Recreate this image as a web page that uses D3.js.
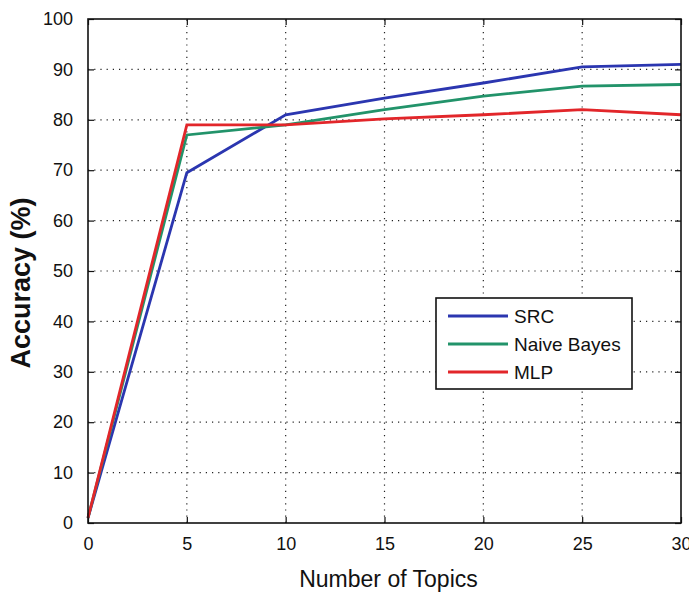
<!DOCTYPE html>
<html>
<head>
<meta charset="utf-8">
<script src="https://cdn.jsdelivr.net/npm/d3@7"></script>
<style>
  body { margin: 0; background: #fff; }
  svg { display: block; font-family: "Liberation Sans", Arial, sans-serif; }
</style>
</head>
<body>
<div id="chart"></div>
<script>
// Data
const topics = [0, 5, 10, 15, 20, 25, 30];
const srcAcc = [1, 69.5, 81, 84.3, 87.3, 90.5, 91];
const nbAcc = [1, 77, 79, 82, 84.7, 86.7, 87];
const mlpAcc = [1, 79, 79, 80.2, 81, 82, 81];
const xTicks = [0, 5, 10, 15, 20, 25, 30];
const yTicks = [0, 10, 20, 30, 40, 50, 60, 70, 80, 90, 100];

const seriesList = [
    { name: 'SRC', values: srcAcc, color: '#2b36b0' },
    { name: 'Naive Bayes', values: nbAcc, color: '#22936a' },
    { name: 'MLP', values: mlpAcc, color: '#e2262a' }
];

const W = 689, H = 593;
const margin = { top: 19, right: 8, bottom: 70, left: 88 };

const svg = d3.select('#chart').append('svg')
    .attr('width', W)
    .attr('height', H);

const x = d3.scaleLinear().domain([0, 30]).range([margin.left, W - margin.right]);
const y = d3.scaleLinear().domain([0, 100]).range([H - margin.bottom, margin.top]);

// dotted grid
svg.append('g').selectAll('line.gx')
    .data(xTicks.slice(1, -1))
    .join('line')
    .attr('x1', d => x(d)).attr('x2', d => x(d))
    .attr('y1', y(0)).attr('y2', y(100))
    .attr('stroke', '#222').attr('stroke-width', 1.2)
    .attr('stroke-dasharray', '1.2,5');

svg.append('g').selectAll('line.gy')
    .data(yTicks.slice(1, -1))
    .join('line')
    .attr('x1', x(0)).attr('x2', x(30))
    .attr('y1', d => y(d)).attr('y2', d => y(d))
    .attr('stroke', '#222').attr('stroke-width', 1.2)
    .attr('stroke-dasharray', '1.2,5');

// axes with inward ticks
const tickLen = 6;
svg.append('g')
    .attr('transform', `translate(0,${y(0)})`)
    .call(d3.axisBottom(x).tickValues(xTicks).tickSizeInner(-tickLen).tickSizeOuter(0).tickPadding(14))
    .call(g => g.select('.domain').remove())
    .call(g => g.selectAll('text').attr('font-size', 18).attr('fill', '#111'));

svg.append('g')
    .attr('transform', `translate(0,${y(100)})`)
    .call(d3.axisTop(x).tickValues(xTicks).tickSizeInner(-tickLen).tickSizeOuter(0).tickFormat(''))
    .call(g => g.select('.domain').remove());

svg.append('g')
    .attr('transform', `translate(${x(0)},0)`)
    .call(d3.axisLeft(y).tickValues(yTicks).tickSizeInner(-tickLen).tickSizeOuter(0).tickPadding(15))
    .call(g => g.select('.domain').remove())
    .call(g => g.selectAll('text').attr('font-size', 18).attr('fill', '#111'));

svg.append('g')
    .attr('transform', `translate(${x(30)},0)`)
    .call(d3.axisRight(y).tickValues(yTicks).tickSizeInner(-tickLen).tickSizeOuter(0).tickFormat(''))
    .call(g => g.select('.domain').remove());

svg.selectAll('.tick line').attr('stroke', '#111').attr('stroke-width', 1.2);

// lines
const line = d3.line()
    .x((d, i) => x(topics[i]))
    .y(d => y(d));

seriesList.forEach(s => {
    svg.append('path')
        .datum(s.values)
        .attr('fill', 'none')
        .attr('stroke', s.color)
        .attr('stroke-width', 2.8)
        .attr('d', line);
});

// frame
svg.append('rect')
    .attr('x', x(0)).attr('y', y(100))
    .attr('width', x(30) - x(0)).attr('height', y(0) - y(100))
    .attr('fill', 'none').attr('stroke', '#111').attr('stroke-width', 1.6);

// legend
const legend = svg.append('g').attr('transform', 'translate(436,298)');
legend.append('rect')
    .attr('width', 196).attr('height', 91)
    .attr('fill', '#fff').attr('stroke', '#111').attr('stroke-width', 1.6);
seriesList.forEach((s, i) => {
    const ly = 18 + i * 28;
    legend.append('line')
        .attr('x1', 12).attr('x2', 72)
        .attr('y1', ly).attr('y2', ly)
        .attr('stroke', s.color).attr('stroke-width', 2.8);
    legend.append('text')
        .attr('x', 78).attr('y', ly + 7)
        .attr('font-size', 19).attr('fill', '#111')
        .text(s.name);
});

// axis titles
svg.append('text')
    .attr('x', (x(0) + x(30)) / 2 + 4).attr('y', 587)
    .attr('text-anchor', 'middle')
    .attr('font-size', 23).attr('fill', '#111')
    .text('Number of Topics');

svg.append('text')
    .attr('transform', `translate(30,${(y(0) + y(100)) / 2 + 12}) rotate(-90)`)
    .attr('text-anchor', 'middle')
    .attr('font-size', 27).attr('font-weight', 'bold').attr('fill', '#111')
    .text('Accuracy (%)');
</script>
</body>
</html>
